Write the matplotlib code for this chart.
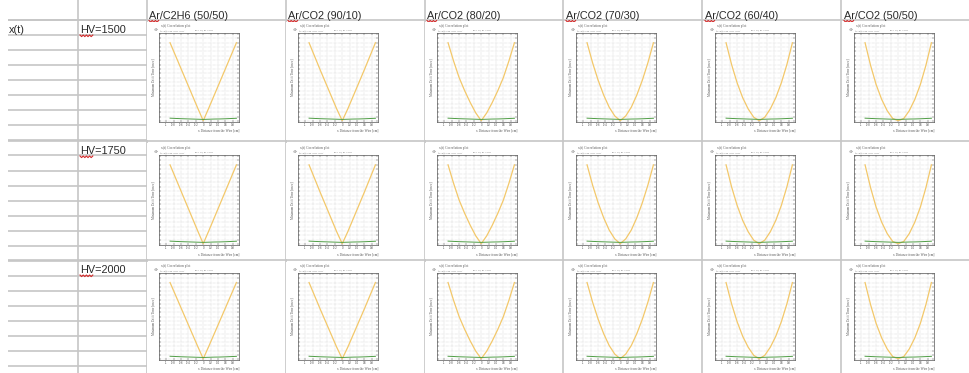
import numpy as np
import matplotlib
matplotlib.use("Agg")
import matplotlib.pyplot as plt

# ---- table content ----
gases = ["Ar/C2H6 (50/50)", "Ar/CO2 (90/10)", "Ar/CO2 (80/20)",
         "Ar/CO2 (70/30)", "Ar/CO2 (60/40)", "Ar/CO2 (50/50)"]
voltages = ["HV=1500", "HV=1750", "HV=2000"]
row_title = "x(t)"

# ---- x(t) curves: drift time [ns] at distance from the wire [cm] ----
distance = [-0.9, -0.75, -0.6, -0.45, -0.3, -0.15, 0.0,
            0.15, 0.3, 0.45, 0.6, 0.75, 0.9]
time_c2h6_50 = [900, 750, 600, 450, 300, 150, 5, 150, 300, 450, 600, 750, 900]
time_co2_10 = [900, 745, 590, 440, 290, 140, 5, 140, 290, 440, 590, 745, 900]
time_co2_20 = [900, 690, 500, 350, 215, 95, 5, 95, 215, 350, 500, 690, 900]
time_co2_30 = [900, 670, 470, 300, 160, 60, 5, 60, 160, 300, 470, 670, 900]
time_co2_40 = [900, 650, 440, 270, 140, 45, 5, 45, 140, 270, 440, 650, 900]
time_co2_50 = [900, 640, 420, 250, 120, 30, 5, 30, 120, 250, 420, 640, 900]
gas_times = [time_c2h6_50, time_co2_10, time_co2_20,
             time_co2_30, time_co2_40, time_co2_50]

# residual trace drawn along the bottom of every panel
residual = [34, 31, 28, 26, 24, 22, 20, 22, 24, 25, 27, 30, 33]

x_ticks = [-1.0, -0.8, -0.6, -0.4, -0.2, 0.0, 0.2, 0.4, 0.6, 0.8]
x_tick_labels = ["-1", "-0.8", "-0.6", "-0.4", "-0.2", "0", "0.2", "0.4", "0.6", "0.8"]
y_ticks = list(range(0, 1001, 50))

W, H = 969, 373
fig = plt.figure(figsize=(W / 100, H / 100), dpi=100)
fig.patch.set_facecolor("white")

# sheet layer in pixel coordinates
sheet = fig.add_axes([0, 0, 1, 1])
sheet.set_xlim(0, W)
sheet.set_ylim(H, 0)
sheet.axis("off")

grid_c = "#c6c6c6"
col_lines = [78, 147, 286, 425, 563, 702, 841]
block_tops = [20, 141, 260]

# horizontal row lines in the two label columns
for k in range(24):
    y = 20 + 15.05 * k
    sheet.plot([8, 147], [y, y], color=grid_c, lw=1.2, solid_capstyle="butt")
# full-width separators between blocks
for y in block_tops:
    sheet.plot([8, W], [y, y], color=grid_c, lw=1.2, solid_capstyle="butt")
# column separators
for x in col_lines:
    sheet.plot([x, x], [0, H], color=grid_c, lw=1.2, solid_capstyle="butt")

font = dict(family=["Liberation Sans", "DejaVu Sans"], fontsize=7.8, color="#2a2a2a")
for c, g in enumerate(gases):
    sheet.text(col_lines[1] + 2 + 139 * c, 19, g, ha="left", va="baseline", **font)
sheet.text(9, 33.3, row_title, ha="left", va="baseline", **font)
for b, v in enumerate(voltages):
    sheet.text(80, block_tops[b] + 13.3, v, ha="left", va="baseline", **font)


def squiggle(x0, x1, y):
    xs = np.arange(x0, x1 + 0.01, 1.6)
    ys = y + np.where(np.arange(len(xs)) % 2 == 0, 0.0, 1.6)
    sheet.plot(xs, ys, color="#d42a2a", lw=0.8)


for c in range(len(gases)):
    squiggle(col_lines[1] + 2 + 139 * c, col_lines[1] + 12 + 139 * c, 20.5)
for b in range(len(voltages)):
    squiggle(80, 94, block_tops[b] + 15)

# panel images: white backing plus a small ROOT-style plot
frame_tops = [33, 155, 273]
frame_hs = [89, 90, 87]
frame_w = 80
tiny = dict(family=["Liberation Serif", "DejaVu Serif"], color="#555555")

for b in range(len(voltages)):
    for c in range(len(gases)):
        fx = 159 + 139 * c
        fy = frame_tops[b]
        frame_h = frame_hs[b]
        # white image background
        bg_top = block_tops[b] + 1.5
        bg_bot = block_tops[b + 1] - 1.5 if b + 1 < len(block_tops) else H
        sheet.add_patch(plt.Rectangle((fx - 12, bg_top), frame_w + 38, bg_bot - bg_top,
                                      facecolor="white", edgecolor="none", zorder=2))
        sheet.text(fx + 2, fy - 7, "x(t) Correlation plot", fontsize=2.6,
                   ha="left", va="center", zorder=3, **tiny)
        sheet.text(fx + 1, fy - 2.2, "fit: |x|(t) = p0 + p1 t + p2 t\u00b2", fontsize=1.6,
                   ha="left", va="center", zorder=3, **tiny)
        sheet.text(fx + 36, fy - 2.8, "p0 = 1.2, p1 = 0.98", fontsize=1.6,
                   ha="left", va="center", zorder=3, **tiny)
        sheet.text(fx - 5, fy - 3, "\u00d710\u00b3", fontsize=2.0,
                   ha="left", va="center", zorder=3, **tiny)
        sheet.text(fx + frame_w, fy + frame_h + 9, "x Distance from the Wire [cm]",
                   fontsize=2.4, ha="right", va="center", zorder=3, **tiny)
        sheet.text(fx - 5.5, fy + frame_h / 2, "Minimum Drift Time [nsec]", fontsize=2.4,
                   rotation=90, ha="center", va="center", zorder=3, **tiny)

        ax = fig.add_axes([fx / W, 1 - (fy + frame_h) / H, frame_w / W, frame_h / H])
        ax.set_zorder(5)
        ax.plot(distance, gas_times[c], color="#f3c86a", lw=0.9)
        ax.plot(distance, residual, color="#4f9d45", lw=0.7)
        ax.set_xlim(-1.2, 0.97)
        ax.set_ylim(-10, 1012)
        ax.set_xticks(x_ticks)
        ax.set_xticklabels(x_tick_labels)
        ax.set_yticks(y_ticks)
        ax.set_yticklabels([])
        ax.tick_params(direction="in", length=1.5, width=0.3, labelsize=1.8,
                       colors="#444444", pad=1, top=True, right=True)
        ax.grid(True, linestyle=":", linewidth=0.35, color="#bdbdbd")
        for s in ax.spines.values():
            s.set_linewidth(0.5)
            s.set_color("#555555")

fig.savefig("out.png", dpi=100, facecolor="white")
